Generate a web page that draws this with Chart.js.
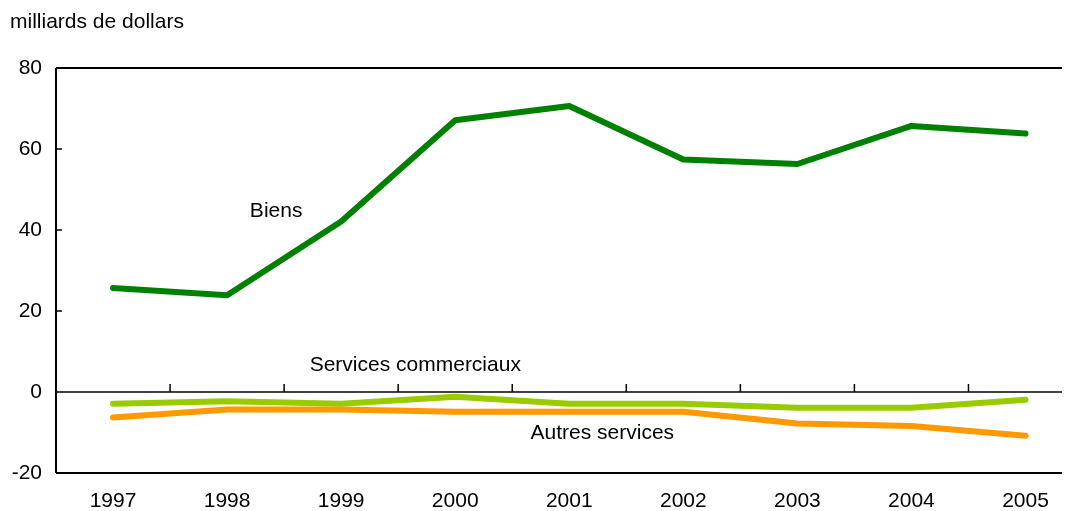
<!DOCTYPE html>
<html><head><meta charset="utf-8">
<script src="https://cdn.jsdelivr.net/npm/chart.js@4"></script>
<style>html,body{margin:0;padding:0;background:#fff;}#wrap{width:1068px;height:511px;}</style>
</head><body><div id="wrap"><canvas id="c" width="1068" height="511"></canvas></div>
<script>
const years = ['1997','1998','1999','2000','2001','2002','2003','2004','2005'];
const biens = [25.7, 23.9, 42.1, 67.1, 70.6, 57.4, 56.3, 65.7, 63.8];
const servicesCommerciaux = [-2.9, -2.3, -2.9, -1.2, -2.9, -2.9, -3.9, -3.9, -1.9];
const autresServices = [-6.3, -4.3, -4.3, -4.9, -4.9, -4.9, -7.8, -8.4, -10.8];
const yTicks = [-20, 0, 20, 40, 60, 80];
const unitLabel = 'milliards de dollars';
const seriesLabels = [
  {text:'Biens', x:1.43, y:44.6},
  {text:'Services commerciaux', x:2.65, y:6.6},
  {text:'Autres services', x:4.29, y:-10.2}
];
const FONT = '"Liberation Sans", Arial, sans-serif';
const FS = 21;

const toPts = arr => arr.map((v, i) => ({x:i, y:v}));

const deco = {
  id:'deco',
  afterDraw(chart){
    const ctx = chart.ctx, a = chart.chartArea;
    const xs = chart.scales.x, ys = chart.scales.y;
    ctx.save();
    ctx.strokeStyle = '#000'; ctx.lineWidth = 2;
    ctx.beginPath();
    ctx.moveTo(a.left, a.top); ctx.lineTo(a.right, a.top);
    ctx.moveTo(a.left, a.top); ctx.lineTo(a.left, a.bottom);
    ctx.moveTo(a.left, a.bottom); ctx.lineTo(a.right, a.bottom);
    ctx.stroke();
    const y0 = ys.getPixelForValue(0);
    ctx.lineWidth = 1.5;
    ctx.beginPath(); ctx.moveTo(a.left, y0); ctx.lineTo(a.right, y0); ctx.stroke();
    for (let i = 0; i < years.length - 1; i++) {
      const xp = xs.getPixelForValue(i + 0.5);
      ctx.beginPath(); ctx.moveTo(xp, y0); ctx.lineTo(xp, y0 - 8); ctx.stroke();
    }
    yTicks.forEach(v => {
      if (v === -20 || v === 80 || v === 0) return;
      const yp = ys.getPixelForValue(v);
      ctx.beginPath(); ctx.moveTo(a.left, yp); ctx.lineTo(a.left + 6, yp); ctx.stroke();
    });
    ctx.fillStyle = '#000';
    ctx.font = FS + 'px ' + FONT;
    ctx.textAlign = 'left'; ctx.textBaseline = 'middle';
    ctx.fillText(unitLabel, 10, 22);
    ctx.textAlign = 'center';
    seriesLabels.forEach(l => {
      ctx.fillText(l.text, xs.getPixelForValue(l.x), ys.getPixelForValue(l.y));
    });
    ctx.restore();
  }
};

const ds = (label, data, color) => ({label, data:toPts(data), borderColor:color, borderWidth:6, pointRadius:0, tension:0, borderCapStyle:'round', borderJoinStyle:'round'});

new Chart(document.getElementById('c'), {
  type:'line',
  data:{
    datasets:[
      ds('Biens', biens, '#008000'),
      ds('Services commerciaux', servicesCommerciaux, '#99CC00'),
      ds('Autres services', autresServices, '#FF9900')
    ]
  },
  options:{
    responsive:false, animation:false, devicePixelRatio:1,
    layout:{padding:{top:68, right:6, left:0, bottom:0}},
    plugins:{legend:{display:false}, tooltip:{enabled:false}, title:{display:false}},
    scales:{
      x:{
        type:'linear', min:-0.5, max:8.32,
        afterBuildTicks(s){ s.ticks = years.map((_, i) => ({value:i})); },
        grid:{display:false, drawTicks:false},
        border:{display:false},
        ticks:{color:'#000', font:{family:FONT, size:FS}, padding:16, maxRotation:0, autoSkip:false,
          callback:(v) => years[Math.round(v)]},
        afterFit(s){ s.height = 38; }
      },
      y:{
        min:-20, max:80,
        afterBuildTicks(s){ s.ticks = yTicks.map(v => ({value:v})); },
        grid:{display:false, drawTicks:false},
        border:{display:false},
        ticks:{color:'#000', font:{family:FONT, size:FS}, padding:14},
        afterFit(s){ s.width = 56; }
      }
    }
  },
  plugins:[deco]
});
</script></body></html>
